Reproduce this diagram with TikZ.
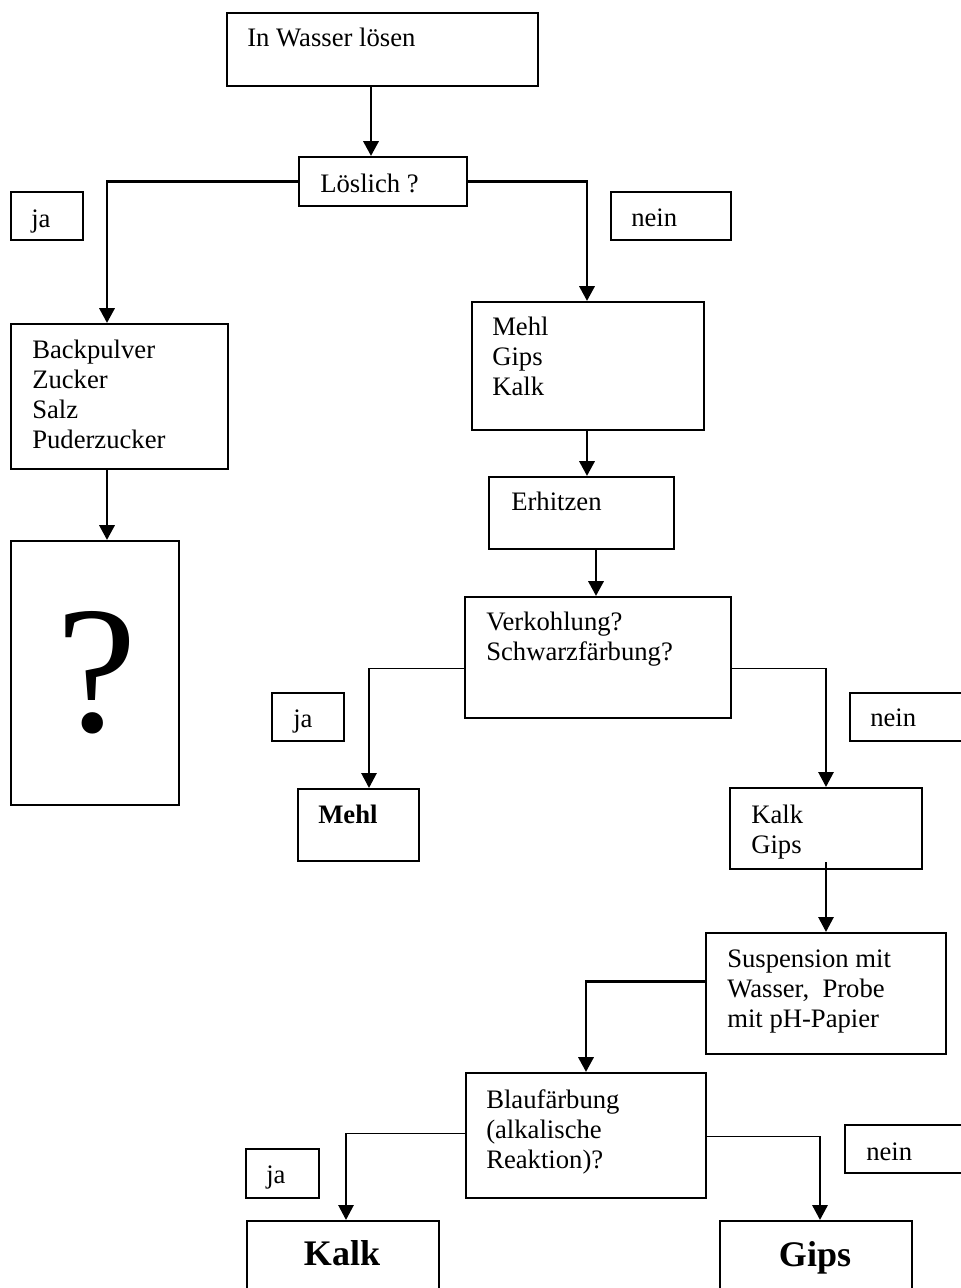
\documentclass[tikz,border=0pt]{standalone}
\usepackage{fontspec}
\setmainfont{Liberation Serif}
\usetikzlibrary{arrows.meta,fit}

\begin{document}
\begin{tikzpicture}[x=0.75pt,y=-0.75pt, line join=miter]
\tikzstyle{box} = [draw,line width=1.7pt,inner sep=0pt]
\tikzstyle{txt} = [anchor=base west,inner sep=0pt,align=left,font=\fontsize{20}{22.5}\selectfont]
\tikzstyle{arr} = [line width=1.6pt,-{Triangle[length=11pt,width=11.5pt]}]
\tikzstyle{thinarr} = [line width=0.8pt,-{Triangle[length=11pt,width=11.5pt]}]
  \useasboundingbox (0,0) rectangle (960,1288);
  % columns of the connectors
  \foreach \n/\x in {c1/371,c2/107,c3/587,c4/596,c5/369,c6/826,c7/586,c8/346,c9/820}{
    \coordinate (\n) at (\x,0);
  }
  % boxes
  \node[box,fit={(227,13) (538,86)}] (wasser) {};
  \node[box,fit={(299,157) (467,206)}] (loeslich) {};
  \node[box,fit={(11,192) (83,240)}] (ja1) {};
  \node[box,fit={(611,192) (731,240)}] (nein1) {};
  \node[box,fit={(11,324) (228,469)}] (bp) {};
  \node[box,fit={(11,541) (179,805)}] (frage) {};
  \node[box,fit={(472,302) (704,430)}] (unloesl) {};
  \node[box,fit={(489,477) (674,549)}] (erhitzen) {};
  \node[box,fit={(465,597) (731,718)}] (verkohl) {};
  \node[box,fit={(272,693) (344,741)}] (ja2) {};
  \node[box,fit={(850,693) (975,741)}] (nein2) {};
  \node[box,fit={(298,789) (419,861)}] (mehl) {};
  \node[box,fit={(730,788) (922,869)}] (kalkgips) {};
  \node[box,fit={(706,933) (946,1054)}] (susp) {};
  \node[box,fit={(466,1073) (706,1198)}] (blau) {};
  \node[box,fit={(246,1149) (319,1198)}] (ja3) {};
  \node[box,fit={(845,1125) (975,1173)}] (nein3) {};
  \node[box,fit={(247,1221) (439,1300)}] (kalk) {};
  \node[box,fit={(720,1221) (912,1300)}] (gips) {};
  % texts (base = last line)
  \node[txt] (t-wasser) at (247,47) {In Wasser lösen};
  \node[txt] (t-loeslich) at (320,192) {Löslich ?};
  \node[txt] (t-ja1) at (31,227) {ja};
  \node[txt] (t-nein1) at (631,226) {nein};
  \node[txt] (t-bp) at (32,448) {Backpulver\\Zucker\\Salz\\Puderzucker};
  \node[anchor=base,inner sep=0pt,font=\fontsize{136}{150}\selectfont] (t-frage) at (97,731) {?};
  \node[txt] (t-unloesl) at (492,395) {Mehl\\Gips\\Kalk};
  \node[txt] (t-erhitzen) at (511,510) {Erhitzen};
  \node[txt] (t-verkohl) at (486,660) {Verkohlung?\\Schwarzfärbung?};
  \node[txt] (t-ja2) at (293,727) {ja};
  \node[txt] (t-nein2) at (870,726) {nein};
  \node[txt,font=\fontsize{20}{22.5}\selectfont\bfseries] (t-mehl) at (318,823) {Mehl};
  \node[txt] (t-kalkgips) at (751,853) {Kalk\\Gips};
  \node[txt] (t-susp) at (727,1027) {Suspension mit\\Wasser,~ Probe\\mit pH-Papier};
  \node[txt] (t-blau) at (486,1168) {Blaufärbung\\(alkalische\\Reaktion)?};
  \node[txt] (t-ja3) at (266,1183) {ja};
  \node[txt] (t-nein3) at (866,1160) {nein};
  \node[anchor=base,inner sep=0pt,font=\fontsize{27}{30}\selectfont\bfseries] (t-kalk) at (342,1265) {Kalk};
  \node[anchor=base,inner sep=0pt,font=\fontsize{27}{30}\selectfont\bfseries] (t-gips) at (815,1266) {Gips};
  % connectors
  \draw[arr] (wasser.south -| c1) -- (loeslich.north -| c1);
  \draw[arr] (loeslich.west) -| (bp.north -| c2);
  \draw[arr] (loeslich.east) -| (unloesl.north -| c3);
  \draw[arr] (bp.south -| c2) -- (frage.north -| c2);
  \draw[arr] (unloesl.south -| c3) -- (erhitzen.north -| c3);
  \draw[arr] (erhitzen.south -| c4) -- (verkohl.north -| c4);
  \draw[thinarr] ([yshift=-8.25pt]verkohl.west) -| (mehl.north -| c5);
  \draw[thinarr] ([yshift=-8.25pt]verkohl.east) -| (kalkgips.north -| c6);
  \draw[thinarr] ([yshift=6pt]kalkgips.south -| c6) -- (susp.north -| c6);
  \draw[arr] ([yshift=9pt]susp.west) -| (blau.north -| c7);
  \draw[thinarr] ([yshift=1.5pt]blau.west) -| (kalk.north -| c8);
  \draw[arr,line width=1.2pt] ([yshift=-0.75pt]blau.east) -| (gips.north -| c9);
\end{tikzpicture}
\end{document}
